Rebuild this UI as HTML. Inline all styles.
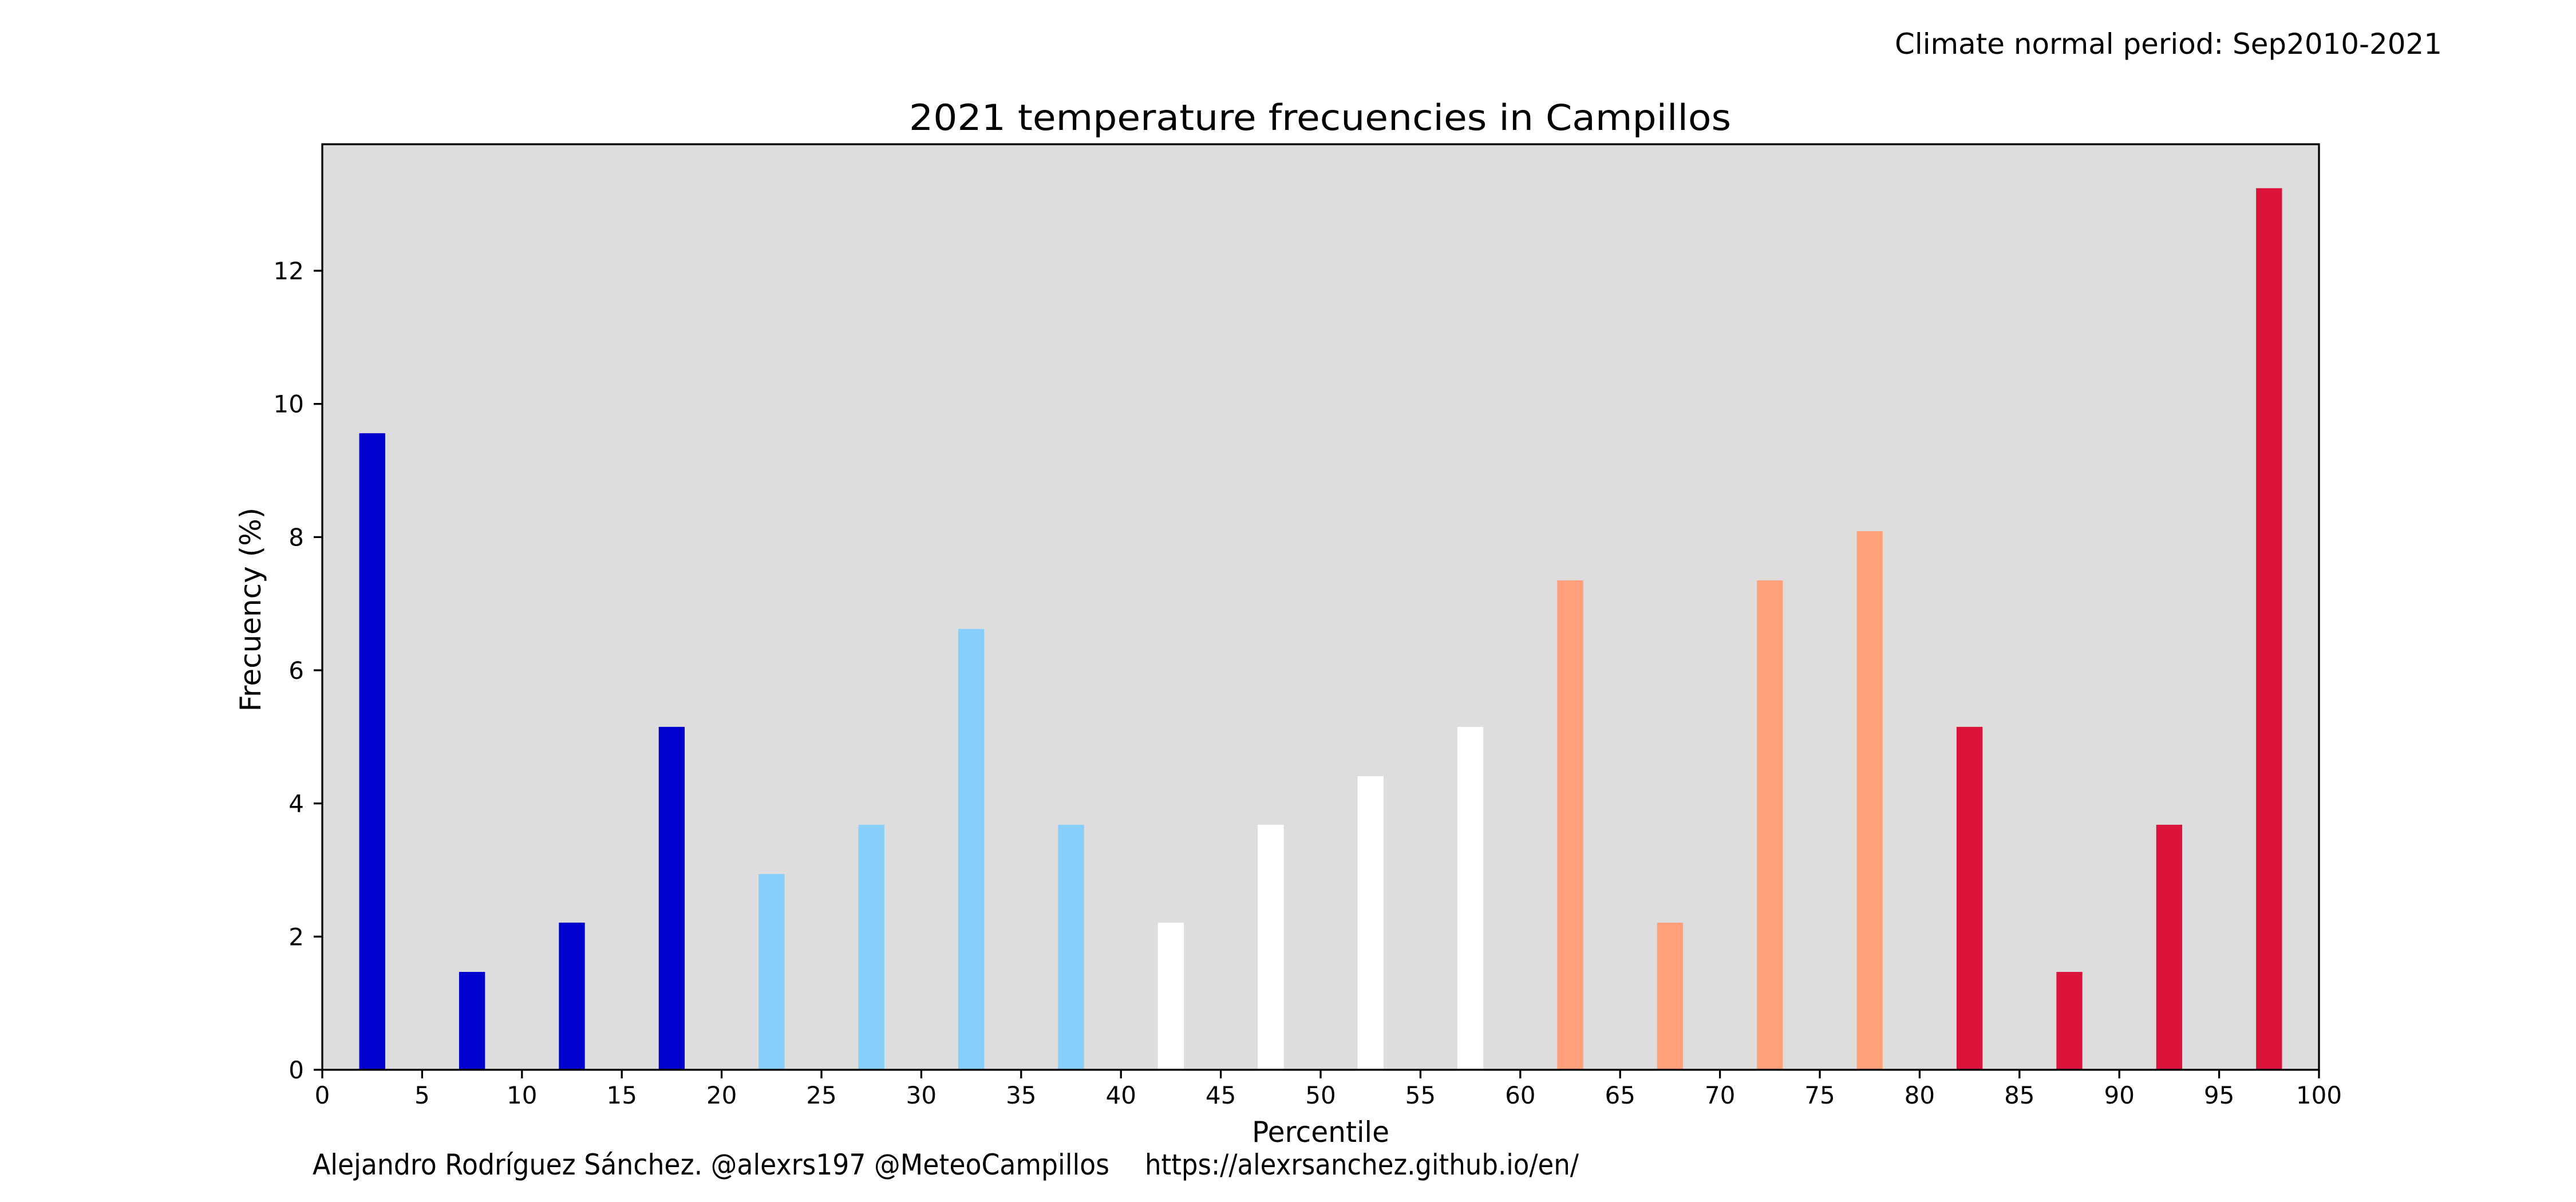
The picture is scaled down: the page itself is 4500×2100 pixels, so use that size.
<!DOCTYPE html>
<html><head><meta charset="utf-8"><style>
html,body{margin:0;padding:0;background:#fff;}
svg{display:block;font-family:"DejaVu Sans","Liberation Sans",sans-serif;}
</style></head><body>
<svg id="chart" width="4500" height="2100" viewBox="0 0 4500 2100" xmlns="http://www.w3.org/2000/svg">
<rect x="0" y="0" width="4500" height="2100" fill="#fff"/>
<text x="3310" y="94" font-size="50" textLength="956" lengthAdjust="spacingAndGlyphs">Climate normal period: Sep2010-2021</text>
<text x="1588" y="227" font-size="62" textLength="1436" lengthAdjust="spacingAndGlyphs">2021 temperature frecuencies in Campillos</text>
<rect x="563" y="252" width="3488" height="1617" fill="#dddddd"/>
<g id="bars"></g>
<g id="xticks"></g>
<g id="yticks"></g>
<rect x="563" y="252" width="3488" height="1617" fill="none" stroke="#000" stroke-width="3.3"/>
<text x="2187" y="1995" font-size="50" textLength="240" lengthAdjust="spacingAndGlyphs">Percentile</text>
<text transform="translate(455,1065) rotate(-90)" text-anchor="middle" font-size="50">Frecuency (%)</text>
<text x="546" y="2052" font-size="50" textLength="1392" lengthAdjust="spacingAndGlyphs">Alejandro Rodríguez Sánchez. @alexrs197 @MeteoCampillos</text>
<text x="2000" y="2052" font-size="50" textLength="758" lengthAdjust="spacingAndGlyphs">https://alexrsanchez.github.io/en/</text>
</svg>
<script>
const categories = [2.5,7.5,12.5,17.5,22.5,27.5,32.5,37.5,42.5,47.5,52.5,57.5,62.5,67.5,72.5,77.5,82.5,87.5,92.5,97.5];
const values = [9.56,1.47,2.21,5.15,2.94,3.68,6.62,3.68,2.21,3.68,4.41,5.15,7.35,2.21,7.35,8.09,5.15,1.47,3.68,13.24];
const barColors = ["#0000cd","#0000cd","#0000cd","#0000cd","#87cefa","#87cefa","#87cefa","#87cefa","#ffffff","#ffffff","#ffffff","#ffffff","#ffa07a","#ffa07a","#ffa07a","#ffa07a","#dc143c","#dc143c","#dc143c","#dc143c"];
const xTickLabels = [0,5,10,15,20,25,30,35,40,45,50,55,60,65,70,75,80,85,90,95,100];
const yTickLabels = [0,2,4,6,8,10,12];

const NS="http://www.w3.org/2000/svg";
const L=563,R=4051,T=252,B=1869, XMAX=100, YMAX=13.9, BW=1.3;
const xs=v=>L+(v/XMAX)*(R-L);
const ys=v=>B-(v/YMAX)*(B-T);
function mk(tag,attrs,parent){const e=document.createElementNS(NS,tag);for(const k in attrs)e.setAttribute(k,attrs[k]);parent.appendChild(e);return e;}
const gb=document.getElementById('bars');
categories.forEach((c,i)=>{
  const r=mk('rect',{x:xs(c-BW/2),y:ys(values[i]),width:xs(BW)-xs(0),height:ys(0)-ys(values[i]),fill:barColors[i]},gb);
  
  
});
const gx=document.getElementById('xticks');
xTickLabels.forEach(v=>{
  const l=mk('line',{x1:xs(v),x2:xs(v),y1:B,y2:B+15,stroke:'#000','stroke-width':3.3},gx);
  
  
  const t=mk('text',{x:xs(v),y:1928,'text-anchor':'middle','font-size':42},gx);
  t.textContent=v;
  
  
});
const gy=document.getElementById('yticks');
yTickLabels.forEach(v=>{
  const l=mk('line',{x1:L-15,x2:L,y1:ys(v),y2:ys(v),stroke:'#000','stroke-width':3.3},gy);
  
  
  const t=mk('text',{x:531,y:ys(v)+15,'text-anchor':'end','font-size':42},gy);
  t.textContent=v;
  
  
});
</script>
</body></html>
